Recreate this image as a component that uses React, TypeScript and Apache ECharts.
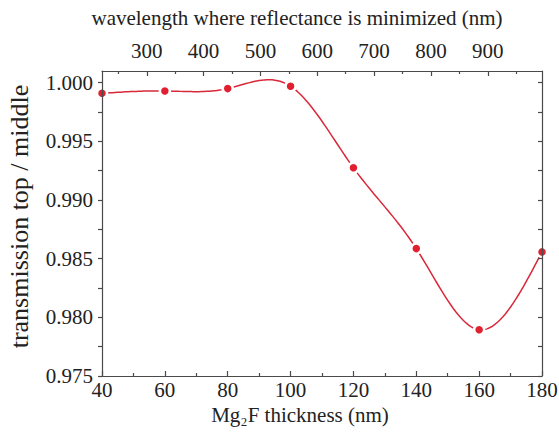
import React, { useEffect, useRef } from "react";
import * as echarts from "echarts";

const thickness = [40, 60, 80, 100, 120, 140, 160, 180];
const transmission = [0.9991, 0.9993, 0.9995, 0.9997, 0.99275, 0.98586, 0.97894, 0.98558];

const yLabelValues = [0.975, 0.98, 0.985, 0.99, 0.995, 1.0];
const yTickValues = [0.975, 0.9775, 0.98, 0.9825, 0.985, 0.9875, 0.99, 0.9925, 0.995, 0.9975, 1.0];

const wavelengthLabels = [300, 400, 500, 600, 700, 800, 900];
const wavelengthMinor = [250, 350, 450, 550, 650, 750, 850, 950];
const wavelengthRange = [221.2, 995.4];

const FONT = "Liberation Serif";
const AXIS_COLOR = "#4a4a4a";
const TEXT_COLOR = "#222";
const RED = "#e0202f";
const LINE_RED = "#d9283a";

// Natural cubic spline second derivatives (how the original plot joins its points)
function splineSecondDerivs(xs: number[], ys: number[]): number[] {
  const n = xs.length;
  const m = new Array(n).fill(0);
  const a: number[] = [], b: number[] = [], c: number[] = [], d: number[] = [];
  for (let i = 1; i < n - 1; i++) {
    const h0 = xs[i] - xs[i - 1];
    const h1 = xs[i + 1] - xs[i];
    a.push(h0);
    b.push(2 * (h0 + h1));
    c.push(h1);
    d.push(6 * ((ys[i + 1] - ys[i]) / h1 - (ys[i] - ys[i - 1]) / h0));
  }
  const k = b.length;
  for (let i = 1; i < k; i++) {
    const w = a[i] / b[i - 1];
    b[i] -= w * c[i - 1];
    d[i] -= w * d[i - 1];
  }
  const sol = new Array(k).fill(0);
  for (let i = k - 1; i >= 0; i--) {
    sol[i] = (d[i] - (i < k - 1 ? c[i] * sol[i + 1] : 0)) / b[i];
  }
  for (let i = 0; i < k; i++) m[i + 1] = sol[i];
  return m;
}

export default function App() {
  const ref = useRef<HTMLDivElement>(null);

  useEffect(() => {
    if (!ref.current) return;
    const chart = echarts.init(ref.current, undefined, { renderer: "svg" });
    const lineStyle = { color: AXIS_COLOR, width: 1.2 };
    const M = splineSecondDerivs(thickness, transmission);

    const renderSpline = (params: any, api: any) => {
      if (params.dataIndex !== 0) return null;
      const pts: number[][] = [];
      const steps = 24;
      for (let i = 0; i < thickness.length - 1; i++) {
        const x0 = thickness[i], x1 = thickness[i + 1];
        const y0 = transmission[i], y1 = transmission[i + 1];
        const h = x1 - x0;
        for (let s = 0; s <= steps; s++) {
          if (i > 0 && s === 0) continue;
          const x = x0 + (h * s) / steps;
          const A = (x1 - x) / h;
          const B = (x - x0) / h;
          const y =
            A * y0 + B * y1 + ((A * A * A - A) * M[i] + (B * B * B - B) * M[i + 1]) * (h * h) / 6;
          pts.push(api.coord([x, y]));
        }
      }
      return {
        type: "polyline",
        shape: { points: pts },
        style: { stroke: LINE_RED, lineWidth: 1.5, fill: null },
      };
    };

    const option: any = {
      animation: false,
      backgroundColor: "#fff",
      textStyle: { fontFamily: FONT, color: TEXT_COLOR },
      grid: {
        left: 102,
        right: 17,
        top: 71,
        bottom: 57,
        containLabel: false,
        outerBoundsMode: "none",
      },
      xAxis: [
        {
          type: "value",
          position: "bottom",
          min: 40,
          max: 180,
          interval: 20,
          z: 5,
          name: "Mg₂F thickness (nm)",
          nameLocation: "middle",
          nameGap: 24,
          nameTextStyle: { fontSize: 21, fontFamily: FONT, color: TEXT_COLOR, padding: [0, 44, 0, 0] },
          axisLine: { show: true, onZero: false, lineStyle },
          axisTick: { show: true, inside: true, length: 5, lineStyle },
          minorTick: { show: true, splitNumber: 2, length: 3, lineStyle },
          splitLine: { show: false },
          axisLabel: { fontSize: 21, fontFamily: FONT, color: TEXT_COLOR, margin: 3 },
        },
        {
          type: "value",
          position: "top",
          min: wavelengthRange[0],
          max: wavelengthRange[1],
          z: 5,
          name: "wavelength where reflectance is minimized (nm)",
          nameLocation: "middle",
          nameGap: 43,
          nameTextStyle: { fontSize: 21, fontFamily: FONT, color: TEXT_COLOR, padding: [0, 50, 0, 0] },
          axisLine: { show: true, onZero: false, lineStyle },
          axisTick: { show: true, inside: true, length: 5, lineStyle, customValues: wavelengthLabels },
          splitLine: { show: false },
          axisLabel: {
            fontSize: 21,
            fontFamily: FONT,
            color: TEXT_COLOR,
            margin: 10,
            customValues: wavelengthLabels,
          },
        },
        {
          type: "value",
          position: "top",
          min: wavelengthRange[0],
          max: wavelengthRange[1],
          z: 5,
          axisLine: { show: false },
          axisTick: { show: true, inside: true, length: 3, lineStyle, customValues: wavelengthMinor },
          splitLine: { show: false },
          axisLabel: { show: false },
        },
      ],
      yAxis: [
        {
          type: "value",
          position: "left",
          min: 0.975,
          max: 1.001,
          z: 5,
          name: "transmission top / middle",
          nameLocation: "middle",
          nameGap: 70,
          nameTextStyle: { fontSize: 26, fontFamily: FONT, color: TEXT_COLOR, padding: [0, 0, 0, 14] },
          axisLine: { show: true, onZero: false, lineStyle },
          axisTick: { show: true, inside: false, length: 4, lineStyle, customValues: yTickValues },
          splitLine: { show: false },
          axisLabel: {
            fontSize: 21,
            fontFamily: FONT,
            color: TEXT_COLOR,
            margin: 9,
            customValues: yLabelValues,
            formatter: (v: number) => v.toFixed(3),
          },
        },
        {
          type: "value",
          position: "right",
          min: 0.975,
          max: 1.001,
          z: 5,
          axisLine: { show: true, onZero: false, lineStyle },
          axisTick: { show: true, inside: true, length: 4, lineStyle, customValues: yTickValues },
          splitLine: { show: false },
          axisLabel: { show: false },
        },
      ],
      series: [
        {
          type: "custom",
          coordinateSystem: "cartesian2d",
          xAxisIndex: 0,
          yAxisIndex: 0,
          data: thickness.map((t, i) => [t, transmission[i]]),
          renderItem: renderSpline,
          silent: true,
          z: 1,
        },
        {
          type: "line",
          xAxisIndex: 0,
          yAxisIndex: 0,
          data: thickness.map((t, i) => [t, transmission[i]]),
          clip: false,
          symbol: "circle",
          symbolSize: 10,
          lineStyle: { width: 0, opacity: 0 },
          itemStyle: { color: RED, borderColor: "#fff", borderWidth: 2.5 },
          z: 2,
        },
      ],
    };
    chart.setOption(option);
    return () => chart.dispose();
  }, []);

  return (
    <div
      ref={ref}
      style={{ position: "absolute", left: 0, top: 0, width: 559, height: 433, background: "#fff" }}
    />
  );
}
